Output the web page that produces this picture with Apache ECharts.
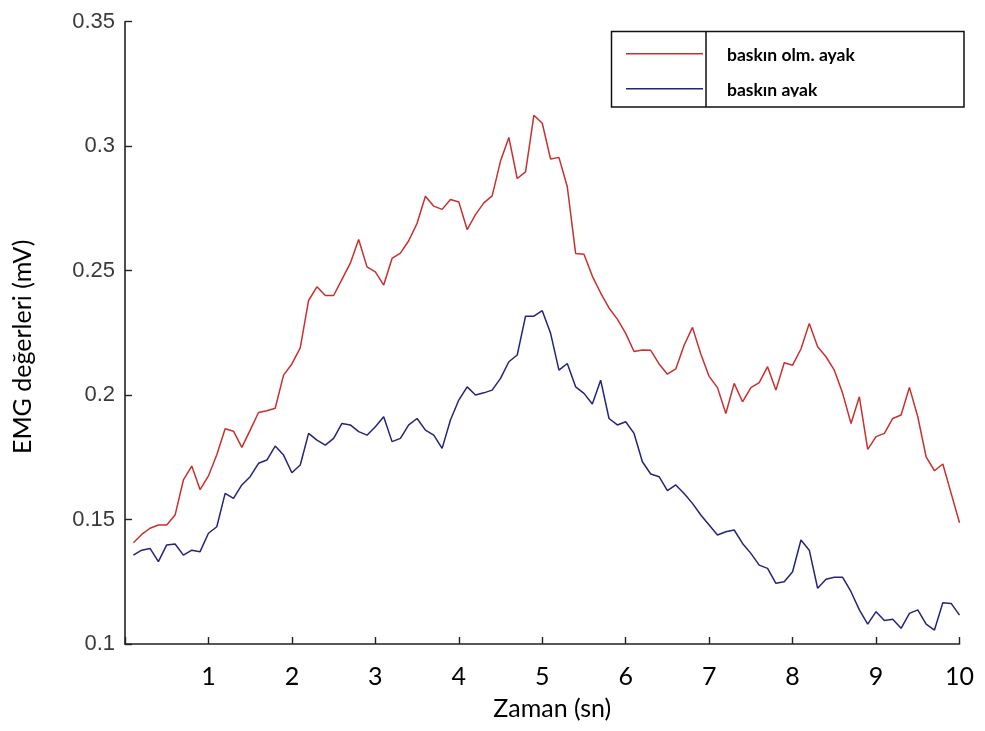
<!DOCTYPE html>
<html>
<head>
<meta charset="utf-8">
<title>EMG değerleri</title>
<script src="https://cdn.jsdelivr.net/npm/echarts@6/dist/echarts.min.js"></script>
<style>
  html, body { margin: 0; padding: 0; background: #ffffff; }
  #chart { width: 985px; height: 731px; }
</style>
</head>
<body>
<div id="chart"></div>
<script>
// Time (s), sampled every 0.1 s
const zaman = [
  0.1, 0.2, 0.3, 0.4, 0.5, 0.6, 0.7, 0.8, 0.9, 1.0,
  1.1, 1.2, 1.3, 1.4, 1.5, 1.6, 1.7, 1.8, 1.9, 2.0,
  2.1, 2.2, 2.3, 2.4, 2.5, 2.6, 2.7, 2.8, 2.9, 3.0,
  3.1, 3.2, 3.3, 3.4, 3.5, 3.6, 3.7, 3.8, 3.9, 4.0,
  4.1, 4.2, 4.3, 4.4, 4.5, 4.6, 4.7, 4.8, 4.9, 5.0,
  5.1, 5.2, 5.3, 5.4, 5.5, 5.6, 5.7, 5.8, 5.9, 6.0,
  6.1, 6.2, 6.3, 6.4, 6.5, 6.6, 6.7, 6.8, 6.9, 7.0,
  7.1, 7.2, 7.3, 7.4, 7.5, 7.6, 7.7, 7.8, 7.9, 8.0,
  8.1, 8.2, 8.3, 8.4, 8.5, 8.6, 8.7, 8.8, 8.9, 9.0,
  9.1, 9.2, 9.3, 9.4, 9.5, 9.6, 9.7, 9.8, 9.9, 10.0
];

// EMG (mV) – non-dominant leg
const baskinOlmAyak = [
  0.1407, 0.1440, 0.1465, 0.1478, 0.1478, 0.1518, 0.1659, 0.1715, 0.1620, 0.1675,
  0.1760, 0.1865, 0.1855, 0.1790, 0.1859, 0.1930, 0.1937, 0.1947, 0.2080, 0.2125,
  0.2190, 0.2380, 0.2435, 0.2400, 0.2400, 0.2465, 0.2530, 0.2625, 0.2515, 0.2495,
  0.2442, 0.2549, 0.2570, 0.2620, 0.2690, 0.2799, 0.2759, 0.2746, 0.2786, 0.2776,
  0.2665, 0.2725, 0.2772, 0.2800, 0.2940, 0.3035, 0.2870, 0.2897, 0.3124, 0.3092,
  0.2948, 0.2955, 0.2837, 0.2569, 0.2566, 0.2478, 0.2410, 0.2350, 0.2305, 0.2248,
  0.2175, 0.2181, 0.2180, 0.2125, 0.2084, 0.2105, 0.2200, 0.2272, 0.2165, 0.2075,
  0.2030, 0.1926, 0.2047, 0.1973, 0.2030, 0.2050, 0.2114, 0.2020, 0.2130, 0.2120,
  0.2185, 0.2288, 0.2194, 0.2154, 0.2100, 0.2007, 0.1886, 0.1993, 0.1782, 0.1833,
  0.1846, 0.1906, 0.1920, 0.2031, 0.1913, 0.1752, 0.1696, 0.1723, 0.1605, 0.1487
];

// EMG (mV) – dominant leg
const baskinAyak = [
  0.1357, 0.1377, 0.1384, 0.1331, 0.1398, 0.1402, 0.1357, 0.1377, 0.1371, 0.1445,
  0.1471, 0.1605, 0.1585, 0.1639, 0.1672, 0.1726, 0.1739, 0.1795, 0.1759, 0.1688,
  0.1719, 0.1846, 0.1819, 0.1799, 0.1826, 0.1886, 0.1880, 0.1853, 0.1839, 0.1873,
  0.1913, 0.1813, 0.1826, 0.1880, 0.1906, 0.1859, 0.1839, 0.1786, 0.1900, 0.1980,
  0.2033, 0.2000, 0.2009, 0.2020, 0.2067, 0.2134, 0.2161, 0.2317, 0.2317, 0.2339,
  0.2248, 0.2100, 0.2127, 0.2033, 0.2007, 0.1964, 0.2060, 0.1906, 0.1880, 0.1893,
  0.1846, 0.1732, 0.1683, 0.1672, 0.1616, 0.1639, 0.1605, 0.1565, 0.1518, 0.1478,
  0.1438, 0.1451, 0.1458, 0.1404, 0.1364, 0.1317, 0.1304, 0.1244, 0.1250, 0.1290,
  0.1418, 0.1377, 0.1224, 0.1260, 0.1268, 0.1268, 0.1210, 0.1137, 0.1080, 0.1130,
  0.1094, 0.1099, 0.1063, 0.1123, 0.1137, 0.1080, 0.1056, 0.1166, 0.1163, 0.1116
];

const seriesNames = ['baskın olm. ayak', 'baskın ayak'];
const xTickLabels = ['', '1', '2', '3', '4', '5', '6', '7', '8', '9', '10'];
const yTickLabels = ['0.1', '0.15', '0.2', '0.25', '0.3', '0.35'];

const pairs = (xs, ys) => xs.map((x, i) => [x, ys[i]]);

const axisColor = '#222222';
const labelFont = 'Lato, "Open Sans", sans-serif';

// Legend swatch: a thin bar sitting at the top of a taller (otherwise empty) box,
// so the label text ends up a little below the line.
const legendSwatch = 'path://M0,0 H77 V1.5 H0 Z M0,5 H0.001 V5.001 H0 Z';

const chart = echarts.init(document.getElementById('chart'), null, { renderer: 'canvas' });

chart.setOption({
  backgroundColor: '#ffffff',
  animation: false,
  grid: { left: 125, right: 25.5, top: 21.7, bottom: 87, containLabel: false },
  xAxis: {
    type: 'value',
    min: 0,
    max: 10,
    interval: 1,
    name: 'Zaman (sn)',
    nameLocation: 'middle',
    nameGap: 52,
    nameTextStyle: { fontFamily: labelFont, fontSize: 25, color: '#000', padding: [0, 0, 0, 20] },
    axisLine: { show: true, lineStyle: { color: axisColor, width: 1.6 } },
    axisTick: { show: true, inside: true, length: 7, lineStyle: { color: axisColor, width: 1.4 } },
    axisLabel: {
      margin: 20,
      fontFamily: labelFont,
      fontSize: 25,
      color: '#000',
      formatter: v => xTickLabels[Math.round(v)] || ''
    },
    splitLine: { show: false }
  },
  yAxis: {
    type: 'value',
    min: 0.1,
    max: 0.35,
    interval: 0.05,
    name: 'EMG değerleri (mV)',
    nameLocation: 'middle',
    nameGap: 90,
    nameTextStyle: { fontFamily: labelFont, fontSize: 25, color: '#000', padding: [0, 28, 0, 0] },
    axisLine: { show: true, lineStyle: { color: axisColor, width: 1.6 } },
    axisTick: { show: true, inside: true, length: 7, lineStyle: { color: axisColor, width: 1.4 } },
    axisLabel: {
      margin: 10,
      fontFamily: '"Liberation Sans", Arial, sans-serif',
      fontSize: 22,
      color: '#3a3a3a',
      formatter: v => yTickLabels[Math.round((v - 0.1) / 0.05)] || ''
    },
    splitLine: { show: false }
  },
  legend: {
    data: seriesNames,
    orient: 'vertical',
    left: 626,
    top: 46.5,
    padding: 0,
    icon: legendSwatch,
    itemWidth: 77,
    itemHeight: 5,
    itemGap: 17,
    selectedMode: false,
    textStyle: {
      fontFamily: labelFont,
      fontWeight: 'bold',
      fontSize: 17.5,
      color: '#000',
      padding: [0, 0, 0, 19]
    }
  },
  graphic: [
    {
      type: 'rect',
      z: 100,
      shape: { x: 720, y: 96.8, width: 242, height: 9.2 },
      style: { fill: '#ffffff' }
    },
    {
      type: 'rect',
      z: 101,
      shape: { x: 611.5, y: 31.5, width: 352.5, height: 75.5 },
      style: { fill: 'none', stroke: '#111', lineWidth: 1.5 }
    },
    {
      type: 'line',
      z: 101,
      shape: { x1: 706, y1: 31.5, x2: 706, y2: 107 },
      style: { stroke: '#111', lineWidth: 1.5 }
    }
  ],
  series: [
    {
      name: seriesNames[0],
      type: 'line',
      data: pairs(zaman, baskinOlmAyak),
      symbol: 'none',
      color: '#c8302e',
      lineStyle: { color: '#c8302e', width: 1.5 }
    },
    {
      name: seriesNames[1],
      type: 'line',
      data: pairs(zaman, baskinAyak),
      symbol: 'none',
      color: '#24247c',
      lineStyle: { color: '#24247c', width: 1.5 }
    }
  ]
});
</script>
</body>
</html>
